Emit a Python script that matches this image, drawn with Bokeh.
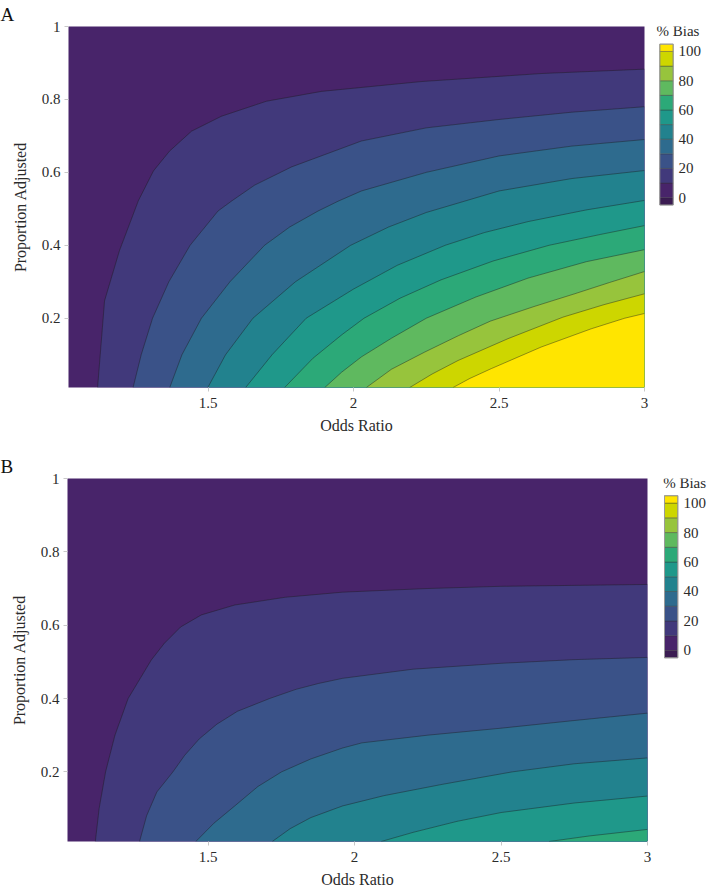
from bokeh.plotting import figure
from bokeh.models import FixedTicker
from bokeh.core.properties import value
from bokeh.layouts import column, row
from bokeh.embed import file_html
from bokeh.resources import INLINE

FONT = "Liberation Serif"

# ---------------- data ----------------
levels = [10, 20, 30, 40, 50, 60, 70, 80, 90, 100]
x_ticks = [1.5, 2, 2.5, 3]
x_tick_labels = ["1.5", "2", "2.5", "3"]
y_ticks = [0.2, 0.4, 0.6, 0.8, 1]
y_tick_labels = ["0.2", "0.4", "0.6", "0.8", "1"]
cb_ticks = [0, 20, 40, 60, 80, 100]
cb_tick_labels = ["0", "20", "40", "60", "80", "100"]
cb_edges = [-5, 0, 10, 20, 30, 40, 50, 60, 70, 80, 90, 100, 105]
x_range = (1.02, 3.0)
y_range = (0.01, 1.0)

# band colours: below 0, 0-10, 10-20, ..., 90-100, above 100
band_colors = ["#3b1c52", "#48246a", "#41397b", "#3a5288", "#2e6b8e",
               "#22828e", "#1f988a", "#2ca978", "#5fb95f", "#97c43c",
               "#cdd600", "#ffe500"]

# Panel A contour lines (Odds ratio, proportion adjusted)
A10_x = [1.120, 1.144, 1.195, 1.260, 1.312, 1.367, 1.443, 1.546, 1.700, 1.889, 2.233, 2.645, 3.000]
A10_y = [0.010, 0.248, 0.385, 0.522, 0.604, 0.658, 0.713, 0.754, 0.795, 0.822, 0.849, 0.871, 0.883]
A20_x = [1.242, 1.270, 1.309, 1.365, 1.438, 1.534, 1.580, 1.660, 1.787, 2.027, 2.250, 2.500, 2.750, 3.000]
A20_y = [0.010, 0.100, 0.200, 0.300, 0.400, 0.494, 0.521, 0.565, 0.615, 0.686, 0.722, 0.745, 0.765, 0.780]
A30_x = [1.368, 1.410, 1.477, 1.575, 1.694, 1.780, 1.878, 1.947, 2.027, 2.250, 2.500, 2.750, 3.000]
A30_y = [0.010, 0.100, 0.200, 0.300, 0.400, 0.450, 0.494, 0.521, 0.549, 0.600, 0.645, 0.672, 0.690]
A40_x = [1.499, 1.560, 1.654, 1.800, 1.990, 2.120, 2.250, 2.500, 2.750, 3.000]
A40_y = [0.010, 0.100, 0.200, 0.300, 0.400, 0.450, 0.490, 0.549, 0.583, 0.605]
A50_x = [1.629, 1.720, 1.837, 2.000, 2.150, 2.315, 2.450, 2.600, 2.800, 3.000]
A50_y = [0.010, 0.100, 0.200, 0.280, 0.345, 0.400, 0.435, 0.465, 0.497, 0.523]
A60_x = [1.763, 1.860, 1.960, 2.036, 2.160, 2.300, 2.480, 2.672, 2.850, 3.000]
A60_y = [0.010, 0.090, 0.155, 0.200, 0.255, 0.305, 0.357, 0.400, 0.430, 0.454]
A70_x = [1.901, 1.959, 2.027, 2.130, 2.250, 2.420, 2.600, 2.800, 3.000]
A70_y = [0.010, 0.052, 0.094, 0.145, 0.200, 0.258, 0.310, 0.355, 0.388]
A80_x = [2.044, 2.130, 2.244, 2.360, 2.470, 2.620, 2.760, 2.880, 3.000]
A80_y = [0.010, 0.060, 0.107, 0.152, 0.192, 0.232, 0.267, 0.298, 0.328]
A90_x = [2.193, 2.270, 2.359, 2.531, 2.720, 2.860, 3.000]
A90_y = [0.010, 0.047, 0.084, 0.144, 0.203, 0.237, 0.267]
A100_x = [2.342, 2.400, 2.474, 2.645, 2.817, 2.932, 3.000]
A100_y = [0.010, 0.035, 0.062, 0.121, 0.171, 0.200, 0.213]

# Panel B contour lines
B10_x = [1.115, 1.128, 1.150, 1.182, 1.227, 1.306, 1.350, 1.406, 1.477, 1.591, 1.762, 1.959, 2.250, 2.500, 3.000]
B10_y = [0.010, 0.100, 0.200, 0.300, 0.400, 0.505, 0.550, 0.595, 0.628, 0.655, 0.676, 0.690, 0.700, 0.706, 0.711]
B20_x = [1.266, 1.290, 1.325, 1.380, 1.420, 1.470, 1.530, 1.600, 1.710, 1.800, 1.877, 1.959, 2.200, 2.500, 2.750, 3.000]
B20_y = [0.010, 0.080, 0.145, 0.200, 0.245, 0.290, 0.330, 0.365, 0.400, 0.425, 0.441, 0.455, 0.480, 0.496, 0.506, 0.512]
B30_x = [1.458, 1.520, 1.591, 1.670, 1.751, 1.850, 1.959, 2.025, 2.250, 2.500, 2.750, 3.000]
B30_y = [0.010, 0.060, 0.107, 0.160, 0.200, 0.235, 0.265, 0.279, 0.300, 0.319, 0.340, 0.360]
B40_x = [1.719, 1.780, 1.850, 1.959, 2.100, 2.300, 2.539, 2.750, 3.000]
B40_y = [0.010, 0.045, 0.075, 0.107, 0.135, 0.166, 0.200, 0.222, 0.238]
B50_x = [2.091, 2.200, 2.350, 2.500, 2.750, 3.000]
B50_y = [0.010, 0.035, 0.065, 0.089, 0.115, 0.134]
B60_x = [2.664, 2.800, 3.000]
B60_y = [0.010, 0.025, 0.043]

A_curves = [(A10_x, A10_y), (A20_x, A20_y), (A30_x, A30_y), (A40_x, A40_y),
            (A50_x, A50_y), (A60_x, A60_y), (A70_x, A70_y), (A80_x, A80_y),
            (A90_x, A90_y), (A100_x, A100_y)]
B_curves = [(B10_x, B10_y), (B20_x, B20_y), (B30_x, B30_y), (B40_x, B40_y),
            (B50_x, B50_y), (B60_x, B60_y)]

TEXT = "#2b2b2b"


def style_axis(ax):
    ax.axis_line_color = None
    ax.major_tick_line_color = "#c8c8c8"
    ax.major_tick_out = 4
    ax.major_tick_in = 0
    ax.minor_tick_line_color = None
    ax.major_label_text_font = FONT
    ax.major_label_text_font_size = "15px"
    ax.major_label_text_color = TEXT
    ax.axis_label_text_font = FONT
    ax.axis_label_text_font_size = "16px"
    ax.axis_label_text_font_style = "normal"
    ax.axis_label_text_color = TEXT


def make_main(label, curves, width, height, borders):
    bl, br, bt, bb = borders
    p = figure(width=width, height=height, x_range=x_range, y_range=y_range,
               output_backend="svg", toolbar_location=None,
               min_border_left=bl, min_border_right=br,
               min_border_top=bt, min_border_bottom=bb)
    p.background_fill_color = band_colors[1]
    p.border_fill_color = "white"
    p.outline_line_color = None
    p.grid.visible = False

    # filled bands: each level covers everything to its lower right
    for i, (cx, cy) in enumerate(curves):
        xs = list(cx) + [x_range[1]]
        ys = list(cy) + [y_range[0]]
        p.patch(xs, ys, fill_color=band_colors[i + 2], line_color=None)
    p.multi_line([list(c[0]) for c in curves], [list(c[1]) for c in curves],
                 line_color="#1a1a1a", line_alpha=0.6, line_width=0.7,
                 line_join="round")

    p.xaxis.ticker = FixedTicker(ticks=x_ticks)
    p.xaxis.major_label_overrides = {t: l for t, l in zip(x_ticks, x_tick_labels)}
    p.yaxis.ticker = FixedTicker(ticks=y_ticks)
    p.yaxis.major_label_overrides = {t: l for t, l in zip(y_ticks, y_tick_labels)}
    p.xaxis.axis_label = "Odds Ratio"
    p.yaxis.axis_label = "Proportion Adjusted"
    style_axis(p.xaxis[0])
    style_axis(p.yaxis[0])
    p.xaxis.major_label_standoff = 6
    p.yaxis.major_label_standoff = 4
    p.xaxis.axis_label_standoff = 6
    p.yaxis.axis_label_standoff = 10

    p.title.text = label
    p.title.text_font = FONT
    p.title.text_font_size = "19px"
    p.title.text_font_style = "normal"
    p.title.text_color = "#111111"
    p.title.align = "left"
    p.title.offset = -bl
    p.title.standoff = 3
    return p


def make_colorbar(width, height, borders, bar_left, bar_w, bar_top, bar_len,
                  title_x, title_gap, label_x):
    """Colour bar drawn in its own narrow figure whose frame matches the main
    figure's frame vertically; bar_* are pixel offsets from that frame."""
    bt, bb = borders
    frame_h = height - bt - bb
    per_px = (cb_edges[-1] - cb_edges[0]) / bar_len
    y_hi = cb_edges[-1] + bar_top * per_px
    y_lo = cb_edges[0] - (frame_h - bar_top - bar_len) * per_px
    c = figure(width=width, height=height, x_range=(0, width), y_range=(y_lo, y_hi),
               output_backend="svg", toolbar_location=None,
               x_axis_location=None, y_axis_location=None,
               min_border_left=0, min_border_right=0,
               min_border_top=bt, min_border_bottom=bb)
    c.background_fill_color = "white"
    c.border_fill_color = "white"
    c.outline_line_color = None
    c.grid.visible = False
    c.quad(left=bar_left, right=bar_left + bar_w, bottom=cb_edges[:-1], top=cb_edges[1:],
           fill_color=band_colors, line_color="#333333", line_alpha=0.55, line_width=0.7)
    c.quad(left=bar_left, right=bar_left + bar_w, bottom=cb_edges[0], top=cb_edges[-1],
           fill_color=None, line_color="#9a9a9a", line_width=1)
    c.text(x=label_x, y=cb_ticks, text=cb_tick_labels,
           text_font=value(FONT), text_font_size="15px", text_color=TEXT,
           text_baseline="middle", text_align="left")
    c.text(x=[title_x], y=[cb_edges[-1] + title_gap * per_px], text=["% Bias"],
           text_font=value(FONT), text_font_size="15px", text_color=TEXT,
           text_baseline="middle", text_align="left")
    return c


pA = make_main("A", A_curves, 650, 444, (68, 6, 25, 57))
cA = make_colorbar(59, 444, (25, 57), 9.3, 13.4, 17.7, 161.3, 6, 12.7, 28)
pB = make_main("B", B_curves, 653, 446, (67, 6, 34, 47))
cB = make_colorbar(56, 446, (34, 47), 11, 13.3, 17.3, 163, 9.7, 12.6, 30)

layout = column(row(pA, cA, spacing=0), row(pB, cB, spacing=0), spacing=0)
open("out.html", "w").write(file_html(layout, INLINE))
